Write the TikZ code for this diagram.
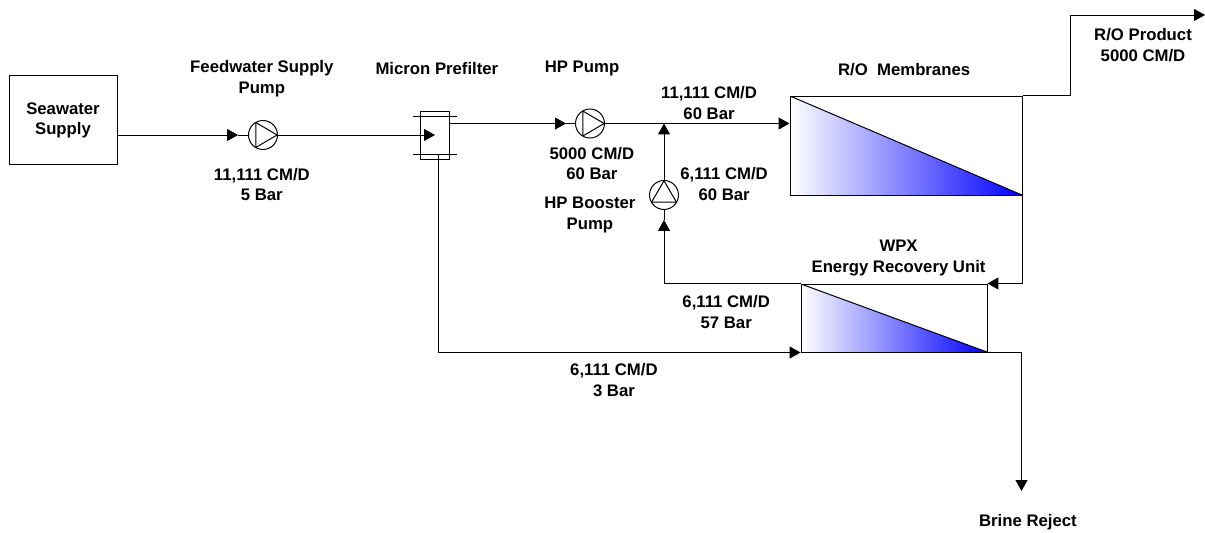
\documentclass[tikz,border=0pt]{standalone}
\usepackage{fontspec}
\setmainfont{Liberation Sans}
\usetikzlibrary{arrows.meta}

\begin{document}
\begin{tikzpicture}[
		line width=.75pt,
		>={Triangle[length=8.25pt,width=9pt]},
		tagtext/.style={align=center,inner sep=0pt,font=\bfseries\fontsize{12.6pt}{15.5pt}\selectfont},
		supplybox/.style={rectangle,draw,inner sep=0pt,minimum width=2.857cm,minimum height=2.355cm},
		filterbox/.style={rectangle,draw,inner sep=0pt,minimum width=.741cm,minimum height=1.296cm},
		pumpright/.style={circle,draw,inner sep=0pt,minimum size=.767cm,
			path picture={\draw
				([shift={(-.19,.33)}]path picture bounding box.center)
				-- ([shift={(.375,0)}]path picture bounding box.center)
				-- ([shift={(-.19,-.33)}]path picture bounding box.center) -- cycle;}},
		pumpup/.style={circle,draw,inner sep=0pt,minimum size=.767cm,
			path picture={\draw
				([shift={(-.33,-.19)}]path picture bounding box.center)
				-- ([shift={(0,.375)}]path picture bounding box.center)
				-- ([shift={(.33,-.19)}]path picture bounding box.center) -- cycle;}},
		unitbox/.style={rectangle,draw,inner sep=0pt,
			path picture={
				\shade[left color=white,right color=blue]
				(path picture bounding box.north west) -- (path picture bounding box.south east)
				-- (path picture bounding box.south west) -- cycle;
				\draw (path picture bounding box.north west) -- (path picture bounding box.south east);}}
		]
		\useasboundingbox (0,0) rectangle (31.882,-14.076);
		
		\node[supplybox, tagtext](S1) at (1.667,-3.188){Seawater\\Supply};
		\node[pumpright](P1) at (6.958,-3.572){};
		\node[filterbox](F1) at (11.509,-3.585){};
		\node[pumpright](P2) at (15.610,-3.268){};
		\node[pumpup](P3) at (17.568,-5.159){};
		\node[unitbox, minimum width=6.138cm, minimum height=2.619cm](M1) at (23.971,-3.850){};
		\node[unitbox, minimum width=4.921cm, minimum height=1.799cm](M2) at (23.654,-8.414){};
		
		\coordinate[left of = P1, xshift = .34cm](A1);
		\coordinate[left of = P2, xshift = .365cm](A2);
		\coordinate[below of = P3, yshift = .34cm](A3);
		\coordinate(O1) at (31.882,-.397);
		\coordinate(B1) at (27.027,-12.99);
		
		\node[tagtext, above of = P1, yshift = .49cm, xshift = -.03cm](L1){Feedwater Supply\\Pump};
		\node[tagtext, below of = P1, yshift = -.31cm, xshift = -.03cm](L2){11,111 CM/D\\5 Bar};
		\node[tagtext, above of = F1, yshift = .76cm, xshift = .05cm](L3){Micron Prefilter};
		\node[tagtext, above of = P2, yshift = .46cm, xshift = -.21cm](L4){HP Pump};
		\node[tagtext, right of = P2, yshift = .54cm, xshift = 2.15cm](L5){11,111 CM/D\\60 Bar};
		\node[tagtext, below of = P2, yshift = -.06cm, xshift = .05cm](L6){5000 CM/D\\60 Bar};
		\node[tagtext, left of = P3, yshift = -.53cm, xshift = -.96cm](L7){HP Booster\\Pump};
		\node[tagtext, right of = P3, yshift = .29cm, xshift = .59cm](L8){6,111 CM/D\\60 Bar};
		\node[tagtext, above of = M1, yshift = 1.02cm, xshift = -.05cm](L9){R/O\ \ Membranes};
		\node[tagtext, left of = O1, yshift = -.79cm, xshift = -.64cm](L10){R/O Product\\5000 CM/D};
		\node[tagtext, above of = M2, yshift = .59cm, xshift = .12cm](L11){WPX\\Energy Recovery Unit};
		\node[tagtext, left of = M2, yshift = .16cm, xshift = -3.44cm](L12){6,111 CM/D\\57 Bar};
		\node[tagtext, below of = M2, yshift = -.64cm, xshift = -7.41cm](L13){6,111 CM/D\\3 Bar};
		\node[tagtext, below of = B1, yshift = .18cm, xshift = .17cm](L14){Brine Reject};
		
		\draw[->] (S1.east |- P1) -- (A1);
		\draw (A1) -- (P1);
		\draw[->] (P1) -- (F1.center |- P1);
		\draw ([xshift=-.21cm,yshift=-.16cm]F1.north west) -- ([xshift=.21cm,yshift=-.16cm]F1.north east);
		\draw ([xshift=-.21cm,yshift=.17cm]F1.south west) -- ([xshift=.21cm,yshift=.17cm]F1.south east);
		
		\draw[->] (F1.east |- P2) -- (A2);
		\draw (A2) -- (P2);
		\draw[->] (P2) -- (M1.west |- P2);
		\draw[->] (P3) -- (P3 |- P2);
		\draw[->] (M2.north west) -| (A3);
		\draw (A3) -- (P3);
		
		\draw[->] (M1.north east) -- ++(1.27,0) |- (O1);
		\draw[->] (M1.north east) |- (M2.north east);
		\draw[->] (M2.south east) -| (B1);
		\draw[->] ([xshift=.08cm,yshift=.17cm]F1.south) |- (M2.south west);
	\end{tikzpicture}
\end{document}
